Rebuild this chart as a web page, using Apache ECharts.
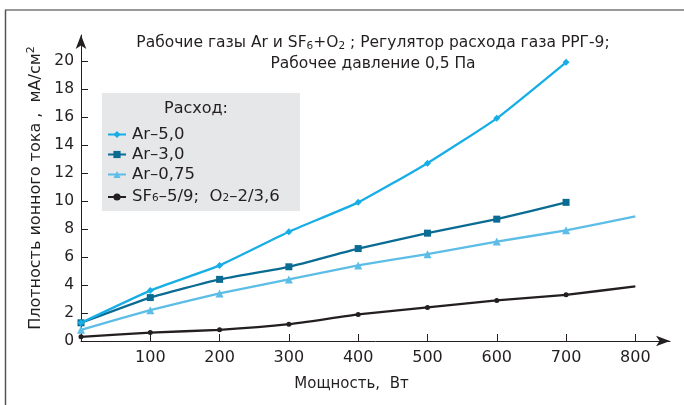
<!DOCTYPE html>
<html>
<head>
<meta charset="utf-8">
<script src="https://cdn.jsdelivr.net/npm/echarts@6/dist/echarts.min.js"></script>
<style>
html,body{margin:0;padding:0;background:#fff;}
#c{width:684px;height:405px;}
</style>
</head>
<body>
<div id="c"></div>
<script>
var powerX = [0, 100, 200, 300, 400, 500, 600, 700, 800];
var xTickValues = [100, 200, 300, 400, 500, 600, 700, 800];
var yTickValues = [0, 2, 4, 6, 8, 10, 12, 14, 16, 18, 20];
var ar50 = [1.3, 3.6, 5.4, 7.8, 9.9, 12.7, 15.9, 19.9];
var ar30 = [1.3, 3.1, 4.4, 5.3, 6.6, 7.7, 8.7, 9.9];
var ar075 = [0.8, 2.2, 3.4, 4.4, 5.4, 6.2, 7.1, 7.9, 8.9];
var sf6 = [0.3, 0.6, 0.8, 1.2, 1.9, 2.4, 2.9, 3.3, 3.9];
var seriesNames = ['Ar–5,0', 'Ar–3,0', 'Ar–0,75', 'SF6–5/9; O2–2/3,6'];
var legendLabels = ['Ar–5,0', 'Ar–3,0', 'Ar–0,75', 'SF{sub|6}–5/9;  O{sub|2}–2/3,6'];

var FONT = '"DejaVu Sans", "Liberation Sans", sans-serif';
var TXT = '#231f20';

function pairs(vals, lastNoSymbol) {
  return vals.map(function (v, i) {
    var item = { value: [powerX[i], v] };
    if (lastNoSymbol && i === 8) { item.symbol = 'none'; }
    return item;
  });
}

var chart = echarts.init(document.getElementById('c'), null, { renderer: 'canvas' });
var option = {
  animation: false,
  backgroundColor: '#fff',
  textStyle: { fontFamily: FONT, color: TXT },
  title: {
    text: 'Рабочие газы Ar и SF{sub|6}+O{sub|2} ; Регулятор расхода газа РРГ-9;\nРабочее давление 0,5 Па',
    left: 368,
    top: 27,
    textAlign: 'center',
    textStyle: {
      fontFamily: FONT, fontSize: 15.5, fontWeight: 'normal', color: TXT, lineHeight: 21,
      rich: { sub: { fontSize: 10.5, fontFamily: FONT, color: TXT, padding: [8, 0, 0, 0] } }
    }
  },
  graphic: [
    { type: 'line', shape: { x1: 5, y1: 10, x2: 684, y2: 10 }, style: { stroke: '#999', lineWidth: 2 }, z: 0 },
    { type: 'line', shape: { x1: 5.5, y1: 10, x2: 5.5, y2: 405 }, style: { stroke: '#555', lineWidth: 1.5 }, z: 0 },
    { type: 'rect', shape: { x: 102, y: 93, width: 198, height: 118 }, style: { fill: '#e6e7e8' }, z: 1 },
    { type: 'text', x: 196, y: 109, style: { text: 'Расход:', fill: TXT, font: '16px ' + FONT, textAlign: 'center', textVerticalAlign: 'middle' }, z: 2 }
  ],
  legend: {
    orient: 'vertical',
    left: 107,
    top: 126,
    padding: 0,
    itemWidth: 18,
    itemHeight: 9,
    itemGap: 3,
    data: seriesNames,
    formatter: function (name) { return legendLabels[seriesNames.indexOf(name)]; },
    textStyle: {
      fontFamily: FONT, fontSize: 16.5, color: TXT, lineHeight: 14, padding: [0, 0, 0, 1],
      rich: { sub: { fontSize: 10.5, fontFamily: FONT, color: TXT, lineHeight: 14, verticalAlign: 'bottom', padding: [7, 0, 0, 0] } }
    },
    z: 3
  },
  grid: { left: 81, right: 14, top: 35, bottom: 64, containLabel: false },
  xAxis: {
    type: 'value',
    min: 0, max: 850, interval: 50,
    name: 'Мощность,  Вт',
    nameLocation: 'middle',
    nameGap: 36,
    nameTextStyle: { fontFamily: FONT, fontSize: 15, color: TXT, padding: [0, 48, 0, 0] },
    axisLine: { show: true, lineStyle: { color: TXT, width: 1 }, symbol: ['none', 'arrow'], symbolSize: [8, 14] },
    axisTick: { show: true, inside: true, length: 7, lineStyle: { color: TXT }, customValues: xTickValues },
    axisLabel: { fontFamily: FONT, fontSize: 16, color: TXT, margin: 9, customValues: xTickValues },
    splitLine: { show: false }
  },
  yAxis: {
    type: 'value',
    min: 0, max: 21.85,
    name: 'Плотность ионного тока ,  мА/см{sup|2}',
    nameLocation: 'middle',
    nameGap: 34,
    nameTextStyle: {
      fontFamily: FONT, fontSize: 16, color: TXT,
      rich: { sup: { fontSize: 11, fontFamily: FONT, color: TXT, padding: [0, 0, 8, 0] } }
    },
    axisLine: { show: true, lineStyle: { color: TXT, width: 1 }, symbol: ['none', 'arrow'], symbolSize: [8, 14] },
    axisTick: { show: true, inside: true, length: 7, lineStyle: { color: TXT }, customValues: yTickValues.slice(1) },
    axisLabel: { fontFamily: FONT, fontSize: 15.5, color: TXT, margin: 7, customValues: yTickValues },
    splitLine: { show: false }
  },
  series: [
    { name: seriesNames[0], type: 'line', data: pairs(ar50), smooth: 0.15, symbol: 'diamond', symbolSize: 7,
      lineStyle: { width: 2.3, color: '#17aee6' }, itemStyle: { color: '#17aee6' }, z: 5 },
    { name: seriesNames[1], type: 'line', data: pairs(ar30), smooth: 0.15, symbol: 'rect', symbolSize: 7,
      lineStyle: { width: 2.3, color: '#0a6b93' }, itemStyle: { color: '#0a6b93' }, z: 4 },
    { name: seriesNames[2], type: 'line', data: pairs(ar075, true), smooth: 0.15, symbol: 'triangle', symbolSize: 8,
      lineStyle: { width: 2.3, color: '#5cbde6' }, itemStyle: { color: '#5cbde6' }, z: 3 },
    { name: seriesNames[3], type: 'line', data: pairs(sf6, true), smooth: 0.15, symbol: 'circle', symbolSize: 5,
      lineStyle: { width: 2.3, color: '#231f20' }, itemStyle: { color: '#231f20' }, z: 2 }
  ]
};
chart.setOption(option);
</script>
</body>
</html>
